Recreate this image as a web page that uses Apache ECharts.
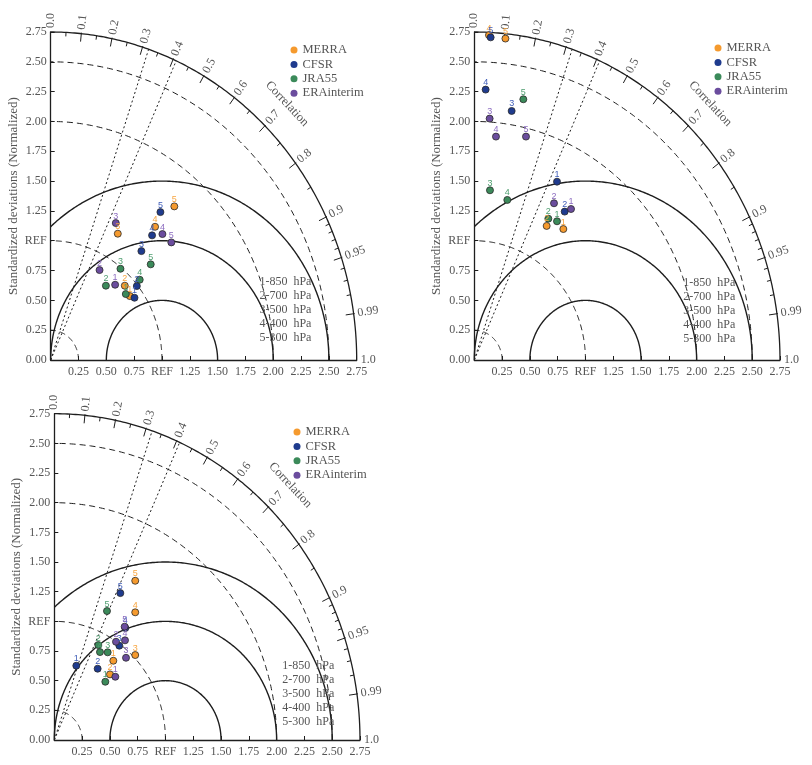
<!DOCTYPE html>
<html><head><meta charset="utf-8">
<script src="https://cdn.jsdelivr.net/npm/echarts@6/dist/echarts.min.js"></script>
<style>html,body{margin:0;padding:0;background:#fff}#c{width:812px;height:765px}</style>
</head><body><div id="c"></div>
<script>
// ---------- data ----------
const models = ['MERRA', 'CFSR', 'JRA55', 'ERAinterim'];
const levels = ['1-850  hPa', '2-700  hPa', '3-500  hPa', '4-400  hPa', '5-300  hPa'];
const axisTickLabels = ['0.00','0.25','0.50','0.75','REF','1.25','1.50','1.75','2.00','2.25','2.50','2.75'];
const corrMajor = [0, 0.1, 0.2, 0.3, 0.4, 0.5, 0.6, 0.7, 0.8, 0.9, 0.95, 0.99, 1.0];
const corrMajorLabels = ['0.0','0.1','0.2','0.3','0.4','0.5','0.6','0.7','0.8','0.9','0.95','0.99','1.0'];
const corrMinor = [0.05,0.15,0.25,0.35,0.45,0.55,0.65,0.75,0.85,0.91,0.92,0.93,0.94,0.96,0.97,0.98];
const stdDashed = [0.25, 1.0, 2.0, 2.5];
const stdMax = 2.75;
const rmsLevels = [0.5, 1.0, 1.5];
const sigCorr = [0.32, 0.41];

// points: [x = std*R, y = std*sin(acos R), level]
// panel a (top left)
const aMERRA = [[0.711,0.536,'1'],[0.666,0.623,'2'],[0.603,1.059,'3'],[0.938,1.117,'4'],[1.111,1.288,'5']];
const aCFSR  = [[0.753,0.522,'1'],[0.774,0.620,'2'],[0.815,0.913,'3'],[0.911,1.045,'4'],[0.986,1.240,'5']];
const aJRA55 = [[0.675,0.553,'1'],[0.496,0.623,'2'],[0.627,0.765,'3'],[0.800,0.673,'4'],[0.899,0.802,'5']];
const aERA   = [[0.579,0.631,'1'],[0.439,0.754,'2'],[0.585,1.148,'3'],[1.004,1.056,'4'],[1.084,0.986,'5']];
// panel b (top right)
const bMERRA = [[0.801,1.098,'1'],[0.651,1.124,'2'],[0.132,2.724,'4'],[0.280,2.695,'5']];
const bCFSR  = [[0.744,1.495,'1'],[0.813,1.244,'2'],[0.336,2.088,'3'],[0.102,2.267,'4'],[0.147,2.705,'5']];
const bJRA55 = [[0.744,1.163,'1'],[0.666,1.185,'2'],[0.141,1.423,'3'],[0.297,1.342,'4'],[0.441,2.186,'5']];
const bERA   = [[0.870,1.266,'1'],[0.717,1.314,'2'],[0.138,2.024,'3'],[0.195,1.873,'4'],[0.465,1.873,'5']];
// panel c (bottom left)
const cMERRA = [[0.531,0.668,'1'],[0.501,0.553,'2'],[0.728,0.716,'3'],[0.728,1.076,'4'],[0.728,1.342,'5']];
const cCFSR  = [[0.198,0.626,'1'],[0.390,0.601,'2'],[0.585,0.795,'3'],[0.639,0.944,'4'],[0.594,1.238,'5']];
const cJRA55 = [[0.459,0.491,'1'],[0.396,0.800,'2'],[0.480,0.739,'3'],[0.411,0.741,'4'],[0.474,1.087,'5']];
const cERA   = [[0.549,0.533,'1'],[0.555,0.828,'2'],[0.645,0.693,'3'],[0.636,0.840,'4'],[0.633,0.955,'5']];

const panelData = [
  [aMERRA, aCFSR, aJRA55, aERA],
  [bMERRA, bCFSR, bJRA55, bERA],
  [cMERRA, cCFSR, cJRA55, cERA]
];

// ---------- styles / layout ----------
const markerColors = ['#F59A2E', '#1F3B8E', '#3B8A5A', '#6B4D9E'];
const labelColors  = ['#F7A540', '#3F5DB8', '#4F9E70', '#8C6CC0'];
const textColor = '#555';
const lineColor = '#1e1e1e';
const serif = '"Liberation Serif", "Times New Roman", serif';
const layout = [
  {left: 50.7,  top: 32,    width: 306,   height: 328,   legLeft: 290.5, legTop: 43,  lvlX: 208.7, lvlY: -78},
  {left: 474.3, top: 32,    width: 305.7, height: 328,   legLeft: 714.5, legTop: 41,  lvlX: 209,   lvlY: -77},
  {left: 54.3,  top: 413.7, width: 305.7, height: 326.3, legLeft: 293.5, legTop: 425, lvlX: 228,   lvlY: -74}
];

function fmtAxis(v) {
  const i = Math.round(v / 0.25);
  return axisTickLabels[i] !== undefined ? axisTickLabels[i] : '';
}

function makeFrame(pi) {
  const L = layout[pi];
  return function (params, api) {
    const ch = [];
    const P = (x, y) => api.coord([x, y]);
    const o = P(0, 0);
    const line = (pts, w, dash) => ch.push({
      type: 'polyline', silent: true, shape: { points: pts },
      style: { stroke: lineColor, lineWidth: w, fill: 'none', lineDash: dash || null }
    });
    const stdArc = (r) => {
      const pts = [];
      for (let i = 0; i <= 180; i++) {
        const t = i / 180 * Math.PI / 2;
        pts.push(P(r * Math.cos(t), r * Math.sin(t)));
      }
      return pts;
    };
    stdDashed.forEach(r => line(stdArc(r), 1, [6, 4]));
    line(stdArc(stdMax), 1.3);
    rmsLevels.forEach(d => {
      const phiMax = d > 1 ? Math.acos(-1 / d) : Math.PI;
      const pts = [];
      for (let i = 0; i <= 240; i++) {
        const f = i / 240 * phiMax;
        pts.push(P(1 + d * Math.cos(f), d * Math.sin(f)));
      }
      line(pts, 1.4);
    });
    sigCorr.forEach(c => {
      const s = Math.sqrt(1 - c * c);
      line([o, P(stdMax * c, stdMax * s)], 1, [2, 2.5]);
    });
    const radial = (c) => {
      const s = Math.sqrt(Math.max(0, 1 - c * c));
      const p = P(stdMax * c, stdMax * s);
      const dx = p[0] - o[0], dy = p[1] - o[1];
      const len = Math.hypot(dx, dy);
      return { p, ux: dx / len, uy: dy / len };
    };
    corrMinor.forEach(c => {
      const { p, ux, uy } = radial(c);
      line([p, [p[0] - ux * 4, p[1] - uy * 4]], 1);
    });
    corrMajor.forEach((c, i) => {
      const { p, ux, uy } = radial(c);
      if (c > 0 && c < 1) line([[p[0] + ux, p[1] + uy], [p[0] - ux * 8, p[1] - uy * 8]], 1);
      ch.push({
        type: 'text', silent: true, x: p[0] + ux * 4, y: p[1] + uy * 4,
        rotation: Math.atan2(-uy, ux),
        style: { text: corrMajorLabels[i], fill: textColor, font: '12px ' + serif, align: 'left', verticalAlign: 'middle' }
      });
    });
    const cc = 0.703, cr = 3.02;
    const cp = P(cr * cc, cr * Math.sqrt(1 - cc * cc));
    ch.push({
      type: 'text', silent: true, x: cp[0], y: cp[1], rotation: -47 * Math.PI / 180,
      style: { text: 'Correlation', fill: textColor, font: '12.5px ' + serif, align: 'center', verticalAlign: 'middle' }
    });
    levels.forEach((s, i) => ch.push({
      type: 'text', silent: true, x: o[0] + L.lvlX, y: o[1] + L.lvlY + 14 * i,
      style: { text: s, fill: textColor, font: '12px ' + serif, align: 'left', verticalAlign: 'middle' }
    }));
    return { type: 'group', children: ch };
  };
}

const grids = [], xAxes = [], yAxes = [], series = [], legends = [];
layout.forEach((L, pi) => {
  grids.push({ left: L.left, top: L.top, width: L.width, height: L.height, containLabel: false, outerBoundsMode: 'none' });
  const axisCommon = {
    type: 'value', gridIndex: pi, min: 0, max: stdMax, interval: 0.25,
    axisLine: { show: true, lineStyle: { color: lineColor, width: 1.3 } },
    axisTick: { show: true, inside: true, length: 4, lineStyle: { color: lineColor, width: 1 } },
    splitLine: { show: false },
    axisLabel: { formatter: fmtAxis, color: textColor, fontFamily: serif, fontSize: 12 }
  };
  xAxes.push(Object.assign({}, axisCommon, {
    axisLabel: Object.assign({}, axisCommon.axisLabel, { showMinLabel: false, margin: 6 })
  }));
  yAxes.push(Object.assign({}, axisCommon, {
    name: 'Standardized deviations (Normalized)', nameLocation: 'middle', nameGap: 31, nameRotate: 90,
    nameTextStyle: { color: textColor, fontFamily: serif, fontSize: 13 },
    axisLabel: Object.assign({}, axisCommon.axisLabel, { margin: 4 })
  }));
  series.push({
    type: 'custom', xAxisIndex: pi, yAxisIndex: pi, silent: true, clip: false, z: 1,
    data: [[0, 0]], encode: { x: 0, y: 1 }, renderItem: makeFrame(pi)
  });
  models.forEach((m, mi) => {
    series.push({
      type: 'scatter', name: m, xAxisIndex: pi, yAxisIndex: pi, z: 3,
      data: panelData[pi][mi], symbol: 'circle', symbolSize: 7,
      itemStyle: { color: markerColors[mi], borderColor: '#2a2a2a', borderWidth: 0.8, opacity: 1 },
      label: {
        show: true, position: 'inside', offset: [0, -7], formatter: p => p.value[2],
        color: labelColors[mi], fontSize: 9, fontFamily: 'Liberation Sans, Arial, sans-serif'
      },
      emphasis: { disabled: true }
    });
  });
  legends.push({
    orient: 'vertical', left: L.legLeft, top: L.legTop, data: models,
    icon: 'circle', itemWidth: 7, itemHeight: 7, itemGap: 0.4, padding: 0,
    itemStyle: { borderWidth: 0 },
    textStyle: { color: textColor, fontFamily: serif, fontSize: 12.5, lineHeight: 14 },
    selectedMode: false
  });
});

const chart = echarts.init(document.getElementById('c'), null, { renderer: 'canvas' });
chart.setOption({
  backgroundColor: '#fff',
  animation: false,
  grid: grids, xAxis: xAxes, yAxis: yAxes, legend: legends,
  series: series
});
</script>
</body></html>
